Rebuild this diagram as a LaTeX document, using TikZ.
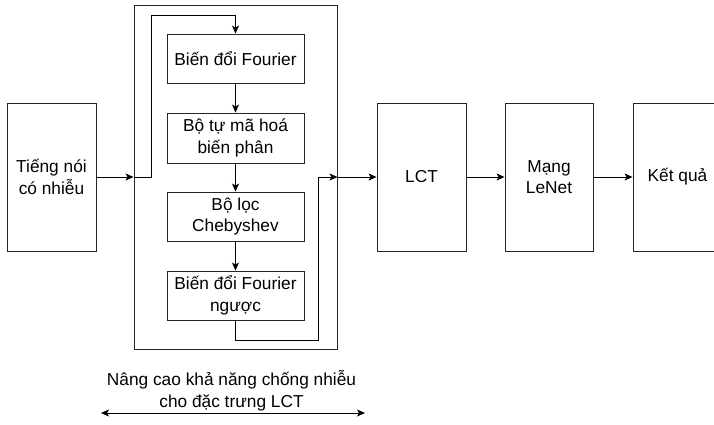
\documentclass[tikz,border=0pt]{standalone}
\usepackage{fontspec}
\setmainfont{Liberation Sans}
\usetikzlibrary{arrows.meta,calc}
\begin{document}
\begin{tikzpicture}[x=1pt,y=-1pt,
  font=\fontsize{17.3}{21.5}\selectfont,
  box/.style={draw=black!85,line width=0.9pt,rectangle,inner sep=0pt,align=center},
  bigbox/.style={box,minimum width=89pt,minimum height=148pt},
  stepbox/.style={box,minimum width=137pt,minimum height=49pt},
  arr/.style={draw=black,line width=0.9pt,-{Stealth[length=8pt,width=7pt,inset=2pt]}},
  link/.style={draw=black,line width=0.9pt}]
\useasboundingbox (0,0) rectangle (714,424);
\clip (0,0) rectangle (714,424);

% container of the noise-robust stage
\node[box,minimum width=203pt,minimum height=344pt] (outer) at (235.5,177) {};

% main chain
\node[bigbox] (noisy) at (51.5,177) {Tiếng nói\\có nhiễu};
\node[bigbox] (lct) at (421.5,177) {LCT};
\node[bigbox,minimum width=88pt] (lenet) at (549,177) {Mạng\\LeNet};
\node[bigbox] (res) at (677.5,177) {Kết quả};

% inner processing steps
\node[stepbox] (ft) at (235.5,58.5) {Biến đổi Fourier};
\node[stepbox,minimum height=50pt] (vae) at (235.5,138) {Bộ tự mã hoá\\biến phân};
\node[stepbox] (cheb) at (235.5,216.5) {Bộ lọc\\Chebyshev};
\node[stepbox] (ift) at (235.5,295.5) {Biến đổi Fourier\\ngược};

% routing points
\coordinate (inL) at (outer.west);
\coordinate (outR) at (outer.east);
\coordinate (up1) at (151,15);
\coordinate (dn1) at (318,340);

% input into the container and on to the first step
\draw[arr] (noisy.east) -- (inL);
\draw[arr] (inL) -- (inL -| up1) |- (up1 -| ft.north) -- (ft.north);

\draw[arr] (ft.south) -- (vae.north);
\draw[arr] (vae.south) -- (cheb.north);
\draw[arr] (cheb.south) -- (ift.north);

% output of the last step to the container edge
\draw[arr] (ift.south) |- (dn1) |- (outR);

% container to the classifier chain
\draw[arr] (outR) -- (lct.west);
\draw[arr] (lct.east) -- (lenet.west);
\draw[arr] (lenet.east) -- (res.west);

% span label
\node[align=center] (cap) at (231.5,391) {Nâng cao khả năng chống nhiễu\\cho đặc trưng LCT};
\coordinate (spanL) at (101,413);
\coordinate (spanR) at (365,413);
\draw[line width=0.9pt,{Stealth[length=8pt,width=7pt,inset=2pt]}-{Stealth[length=8pt,width=7pt,inset=2pt]}] (spanL) -- (spanR);
\end{tikzpicture}
\end{document}
